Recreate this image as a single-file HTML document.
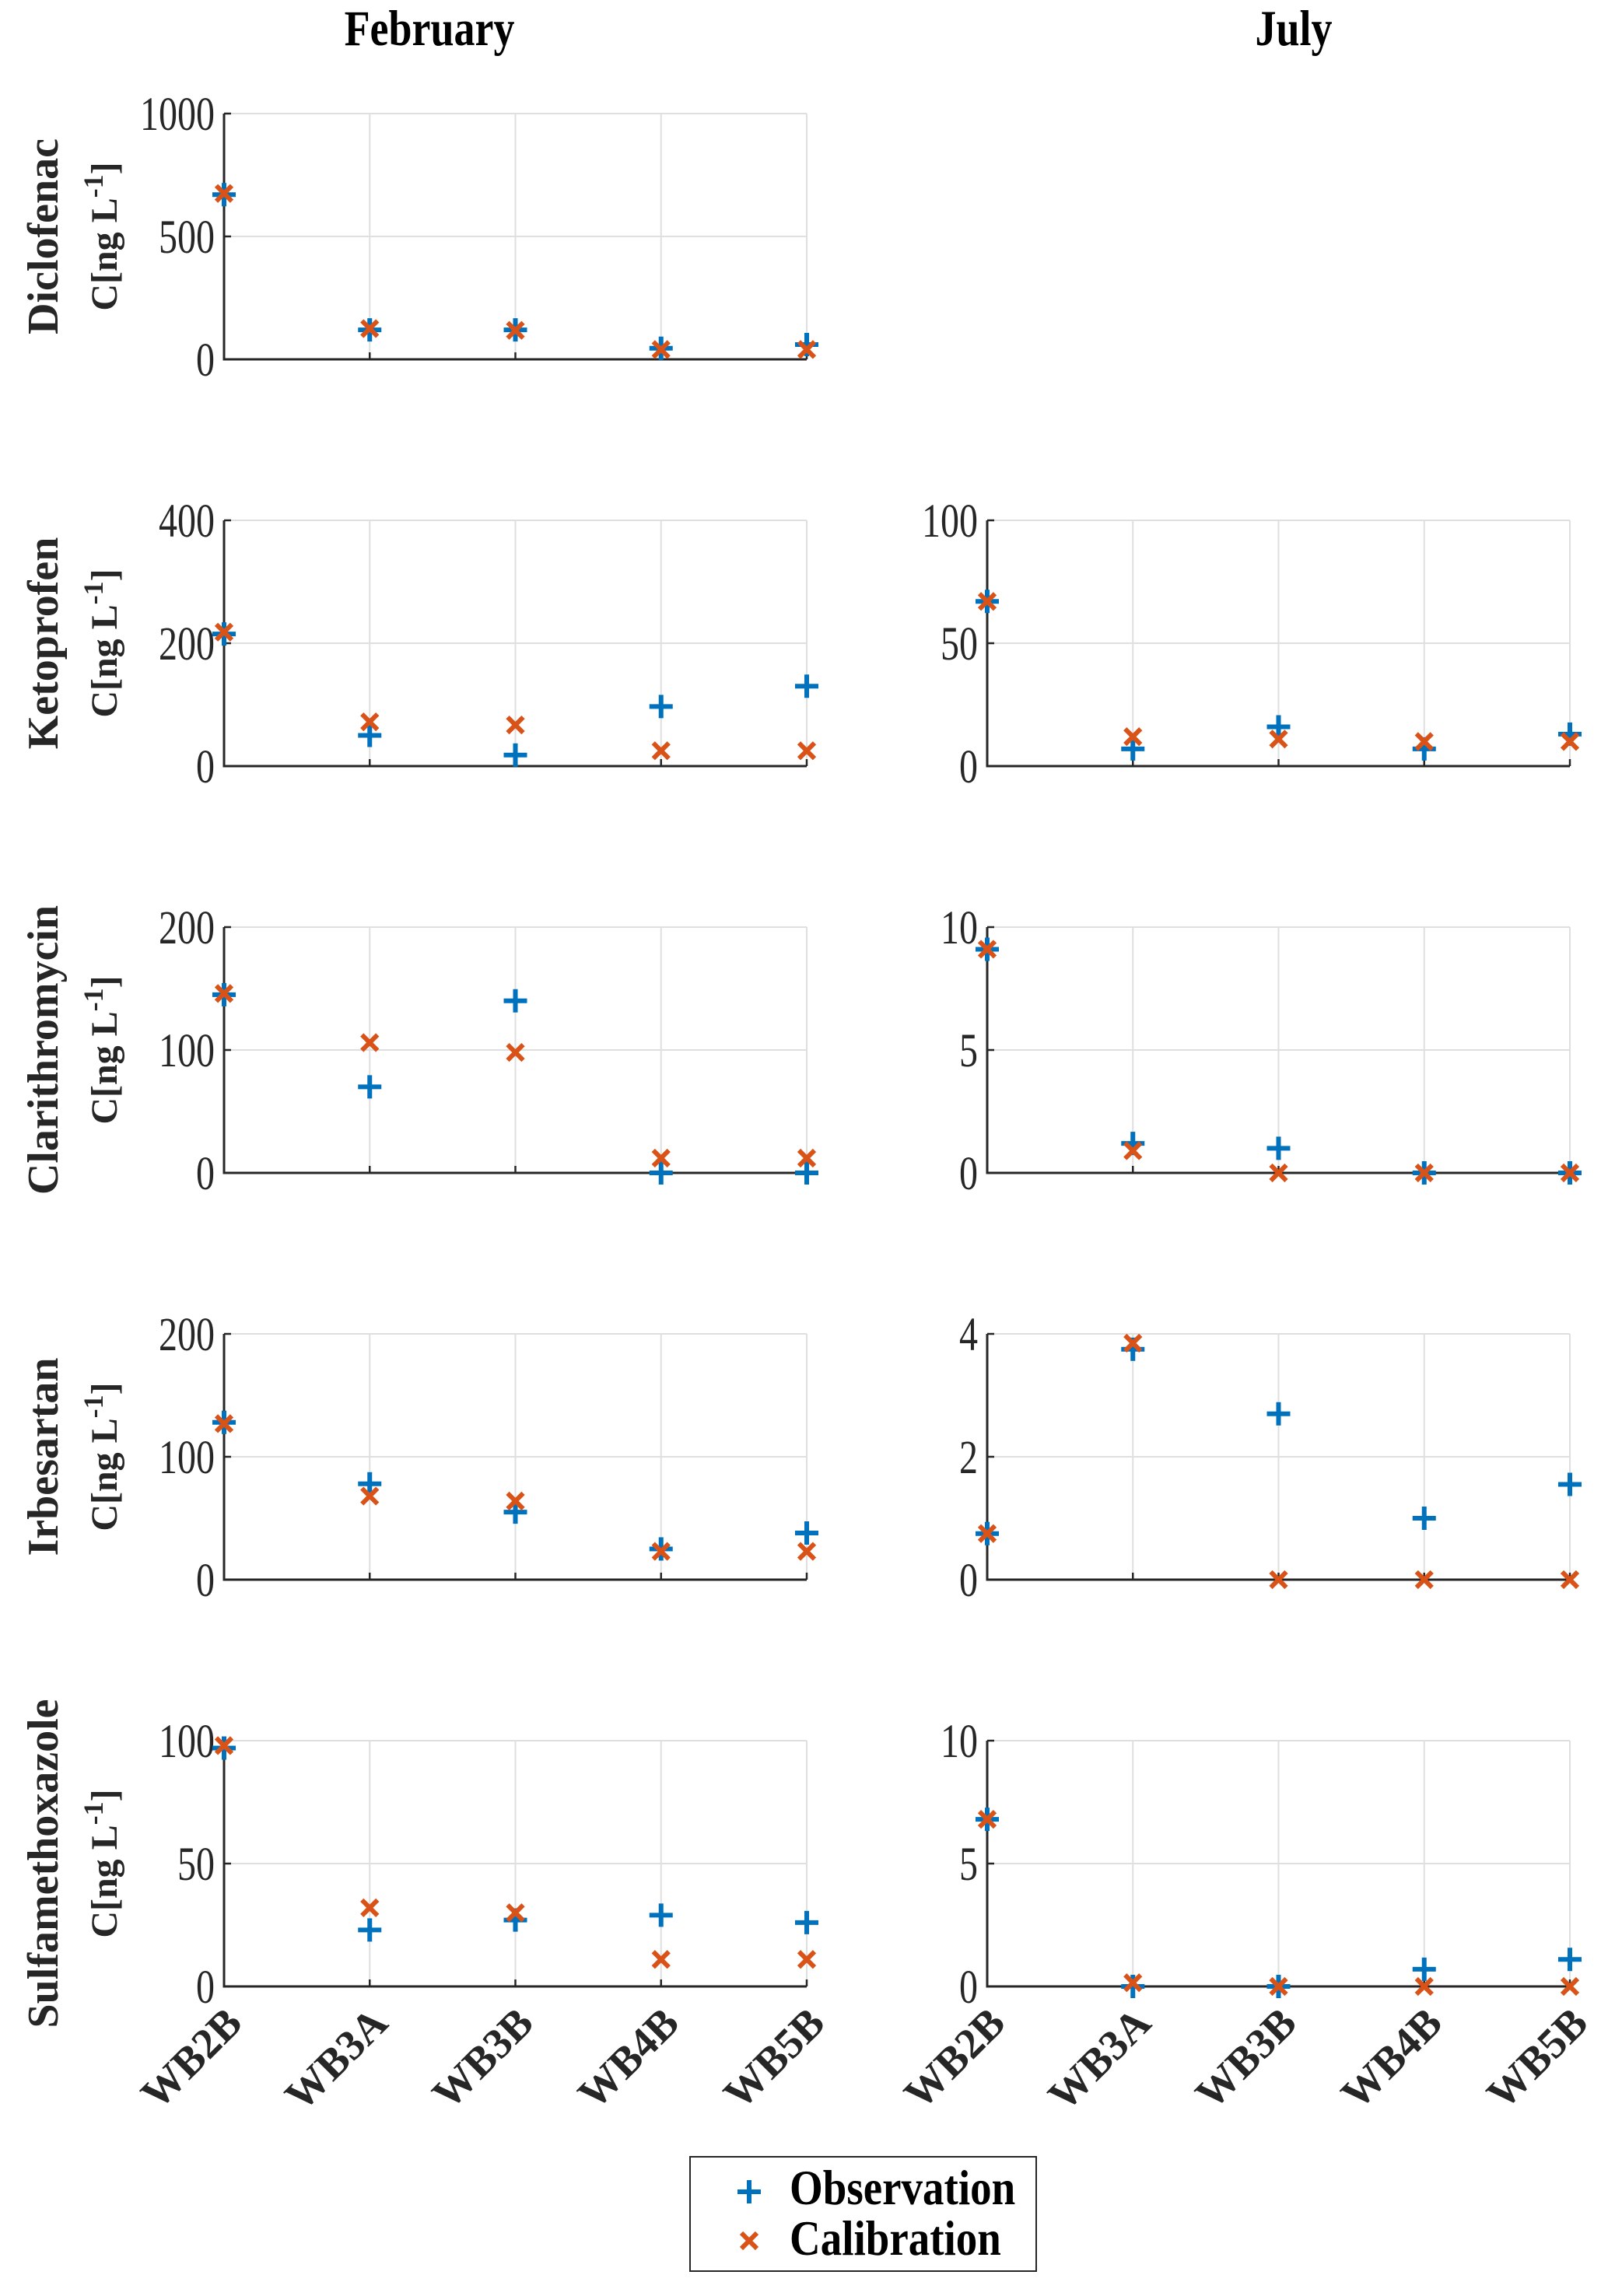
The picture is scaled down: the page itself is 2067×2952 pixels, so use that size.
<!DOCTYPE html>
<html><head><meta charset="utf-8"><style>
body{margin:0;background:#fff;}
svg{display:block;font-family:"Liberation Serif",serif;}
</style></head><body>
<svg id="fig" width="2067" height="2952" viewBox="0 0 2067 2952">
<text transform="translate(552 58) scale(1 1.2)" font-size="54" font-weight="bold" text-anchor="middle" fill="#000">February</text>
<text transform="translate(1663 58) scale(1 1.2)" font-size="54" font-weight="bold" text-anchor="middle" fill="#000">July</text>
<g>
<rect x="887" y="2773" width="445" height="147" fill="#fff" stroke="#262626" stroke-width="2"/>
<g>
<path d="M948 2818h30M963 2803v30" stroke="#0072BD" stroke-width="6"/>
<text transform="translate(1015 2834) scale(1 1.15)" font-size="55" font-weight="bold">Observation</text></g>
<g>
<path d="M953 2871l20 20M973 2871l-20 20" stroke="#D95319" stroke-width="6"/>
<text transform="translate(1015 2899) scale(1 1.15)" font-size="55" font-weight="bold">Calibration</text></g>
</g>
</svg>
<script>
const categories = ["WB2B","WB3A","WB3B","WB4B","WB5B"];
const compounds = ["Diclofenac","Ketoprofen","Clarithromycin","Irbesartan","Sulfamethoxazole"];
const febObs = [[670,120,120,45,60],[215,50,18,97,130],[145,70,140,0,0],[128,78,55,25,38],[97,23,27,29,26]];
const febCal = [[675,125,118,40,40],[218,72,67,25,25],[146,106,98,12,12],[127,68,64,23,23],[98,32,30,11,11]];
const febTicks = [[0,500,1000],[0,200,400],[0,100,200],[0,100,200],[0,50,100]];
const julObs = [null,[67,7,16,7,13],[9.1,1.2,1.0,0,0],[0.75,3.75,2.7,1.0,1.55],[6.8,0,0,0.7,1.1]];
const julCal = [null,[67,12,11,10,10],[9.1,0.9,0,0,0],[0.75,3.85,0,0,0],[6.8,0.15,0,0,0]];
const julTicks = [null,[0,50,100],[0,5,10],[0,2,4],[0,5,10]];

const NS="http://www.w3.org/2000/svg";
const svg=document.getElementById('fig');
function mk(tag,attrs,parent){const e=document.createElementNS(NS,tag);for(const k in attrs)e.setAttribute(k,attrs[k]);(parent||svg).appendChild(e);return e;}
const colX=[288,1269], W=749, H=316, top0=146, rowStep=523;

function panel(col,row,obs,cal,ticks){
  const x0=colX[col], y0=top0+row*rowStep, yb=y0+H;
  const ymax=ticks[ticks.length-1];
  const sx=i=>x0+i*W/(categories.length-1);
  const sy=v=>yb-v/ymax*H;
  const g=mk('g',{});
  
  
  ticks.forEach(t=>{const l=mk('line',{x1:x0,x2:x0+W,y1:sy(t),y2:sy(t),stroke:'#dfdfdf','stroke-width':2},g);
    });
  categories.forEach((c,i)=>{const l=mk('line',{x1:sx(i),x2:sx(i),y1:y0,y2:yb,stroke:'#dfdfdf','stroke-width':2},g);
    });
  const ax=mk('path',{d:`M${x0} ${y0}V${yb}H${x0+W}`,stroke:'#262626','stroke-width':3,fill:'none'},g);
  
  ticks.forEach(t=>{const tk=mk('line',{x1:x0,x2:x0+9,y1:sy(t),y2:sy(t),stroke:'#262626','stroke-width':2.5},g);
    
    const tl=mk('text',{'font-size':48,'text-anchor':'end',fill:'#262626',transform:`translate(${x0-12} ${sy(t)+21}) scale(1 1.28)`},g);
    tl.textContent=t;});
  categories.forEach((c,i)=>{const tk=mk('line',{x1:sx(i),x2:sx(i),y1:yb,y2:yb-9,stroke:'#262626','stroke-width':2.5},g);
    
    if(row===4){const tx=sx(i)+26, ty=yb+50;
      const tl=mk('text',{x:tx,y:ty,'font-size':55,'font-weight':'bold','text-anchor':'end',fill:'#262626',transform:`rotate(-45 ${tx} ${ty})`},g);
      tl.textContent=c;}});
  if(col===0){const cy=y0+H/2;
    const l1=mk('text',{x:0,y:0,'font-size':56,'font-weight':'bold','text-anchor':'middle',fill:'#262626',transform:`translate(74 ${cy}) rotate(-90)`},g);
    l1.textContent=compounds[row];
    const l2=mk('text',{x:0,y:0,'font-size':48,'font-weight':'bold','text-anchor':'middle',fill:'#262626',transform:`translate(150 ${cy}) rotate(-90)`},g);
    l2.innerHTML='C[ng L<tspan dy="-18" font-size="36">-1</tspan><tspan dy="18">]</tspan>';
    }
  obs.forEach((v,i)=>{const x=sx(i),y=sy(v);
    const p=mk('path',{d:`M${x-15} ${y}h30M${x} ${y-15}v30`,stroke:'#0072BD','stroke-width':6},g);
    });
  cal.forEach((v,i)=>{const x=sx(i),y=sy(v);
    const p=mk('path',{d:`M${x-10} ${y-10}l20 20M${x+10} ${y-10}l-20 20`,stroke:'#D95319','stroke-width':6},g);
    });
}
for(let r=0;r<5;r++){
  panel(0,r,febObs[r],febCal[r],febTicks[r]);
  if(julObs[r]) panel(1,r,julObs[r],julCal[r],julTicks[r]);
}
</script>
</body></html>
